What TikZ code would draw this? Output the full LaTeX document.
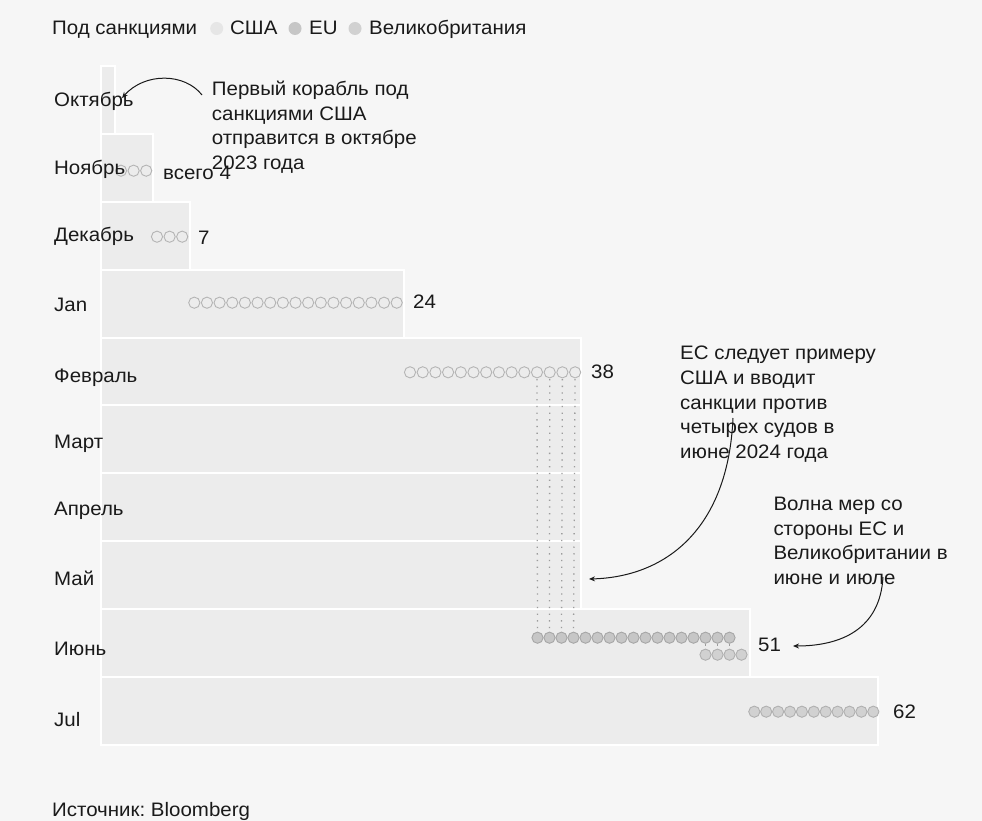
\documentclass[tikz,border=0pt]{standalone}
\usepackage{fontspec}
\setmainfont[FakeStretch=1.05]{Liberation Sans}
\usetikzlibrary{arrows.meta}
\definecolor{bg}{HTML}{F6F6F6}
\definecolor{barc}{HTML}{ECECEC}
\definecolor{ink}{HTML}{1A1A1A}
\definecolor{usleg}{HTML}{E6E6E6}
\definecolor{usline}{HTML}{B4B4B4}
\definecolor{eufill}{HTML}{C6C6C6}
\definecolor{euline}{HTML}{A6A6A6}
\definecolor{ukfill}{HTML}{D1D1D1}
\definecolor{ukline}{HTML}{B0B0B0}
\definecolor{dotc}{HTML}{9C9C9C}
\frenchspacing
\begin{document}
\begin{tikzpicture}[x=1pt,y=-1pt,
  font=\fontsize{19.5}{24.6}\selectfont,
  bar/.style={fill=barc, draw=white, line width=2pt},
  lbl/.style={anchor=base west, inner sep=0, text=ink},
  note/.style={anchor=north west, align=left, inner sep=0, text=ink},
  dotbase/.style={circle, minimum size=11.2pt, inner sep=0, line width=0.9pt},
  us/.style={dotbase, draw=usline, fill=barc},
  eu/.style={dotbase, draw=euline, fill=eufill},
  uk/.style={dotbase, draw=ukline, fill=ukfill},
  legdot/.style={circle, minimum size=13pt, inner sep=0},
  arr/.style={-{Stealth[length=6pt,width=5pt]}, line width=1pt, draw=ink},
  link/.style={draw=dotc, line width=1.3pt, dash pattern=on 1.3pt off 5.4pt}
]
\fill[bg] (0,0) rectangle (982,821);
\useasboundingbox (0,0) rectangle (982,821);

% legend
\node[lbl] (legt) at (52,35) {Под санкциями};
\node[legdot, fill=usleg] (legus) at (216.7,28.5) {};
\node[lbl] (legust) at (230,35) {США};
\node[legdot, fill=eufill] (legeu) at (295,28.5) {};
\node[lbl] (legeut) at (309,35) {EU};
\node[legdot, fill=ukfill] (leguk) at (355,28.5) {};
\node[lbl] (legukt) at (369,35) {Великобритания};

% bars
\foreach \k/\r in {0/115,1/152.5,2/190,3/404,4/581,5/581,6/581,7/581,8/750,9/878}
  \draw[bar] (101,{65.7+67.95*\k}) rectangle (\r,{65.7+67.95*(\k+1)});

% dotted links (behind circles)
\foreach \i in {1,...,14} \coordinate (feb\i) at ({410+12.7*(\i-1)},372.3);
\foreach \i in {1,...,17} \coordinate (jt\i) at ({537.5+12*(\i-1)},637.7);
\foreach \i in {1,...,4} \coordinate (jb\i) at ({705.5+12*(\i-1)},654.7);
\foreach \a/\b in {11/1,12/2,13/3,14/4} \draw[link] (feb\a) -- (jt\b);
\foreach \a/\b in {15/1,16/2,17/3} \draw[link] (jt\a) -- (jb\b);

% circles
\foreach \i in {1,2,3} \node[us] (nov\i) at ({121+12.6*(\i-1)},170.7) {};
\foreach \i in {1,2,3} \node[us] (dec\i) at ({157+12.6*(\i-1)},236.7) {};
\foreach \i in {1,...,17} \node[us] (jan\i) at ({194.3+12.65*(\i-1)},302.7) {};
\foreach \i in {1,...,14} \node[us] (fc\i) at (feb\i) {};
\foreach \i in {1,...,17} \node[eu] (jtc\i) at (jt\i) {};
\foreach \i in {1,...,4} \node[uk] (jbc\i) at (jb\i) {};
\foreach \i in {1,...,11} \node[uk] (jul\i) at ({754.3+11.9*(\i-1)},711.7) {};

% month labels
\foreach \k/\t/\b in {0/Октябрь/106.7,1/Ноябрь/175,2/Декабрь/241,3/Jan/311.5,4/Февраль/382,5/Март/448.3,6/Апрель/515,7/Май/585.7,8/Июнь/655.7,9/Jul/726.7}
  \node[lbl] (m\k) at (54,\b) {\t};

% totals
\node[lbl] (t4) at (163,180) {всего 4};
\node[lbl] (t7) at (198,244) {7};
\node[lbl] (t24) at (413,308.5) {24};
\node[lbl] (t38) at (591,378.3) {38};
\node[lbl] (t51) at (758,651.7) {51};
\node[lbl] (t62) at (893,718.3) {62};

% annotations
\node[note] (n1) at (211.7,81) {Первый корабль под\\санкциями США\\отправится в октябре\\2023 года};
\node[note] (n2) at (680,346) {ЕС следует примеру\\США и вводит\\санкции против\\четырех судов в\\июне 2024 года};
\node[note] (n3) at (773.3,497) {Волна мер со\\стороны ЕС и\\Великобритании в\\июне и июле};

\coordinate (a1s) at (202,95);
\coordinate (a1e) at (122,98);
\draw[arr] (a1s) .. controls (185,73) and (145,72) .. (a1e);
\coordinate (a2s) at (733,418);
\coordinate (a2e) at (589,579);
\draw[arr] (a2s) .. controls (728,530) and (665,577) .. (a2e);
\coordinate (a3s) at (883,577);
\coordinate (a3e) at (793,646);
\draw[arr] (a3s) .. controls (880,630) and (840,646) .. (a3e);

% source
\node[lbl] (src) at (52,816) {Источник: Bloomberg};
\end{tikzpicture}
\end{document}
